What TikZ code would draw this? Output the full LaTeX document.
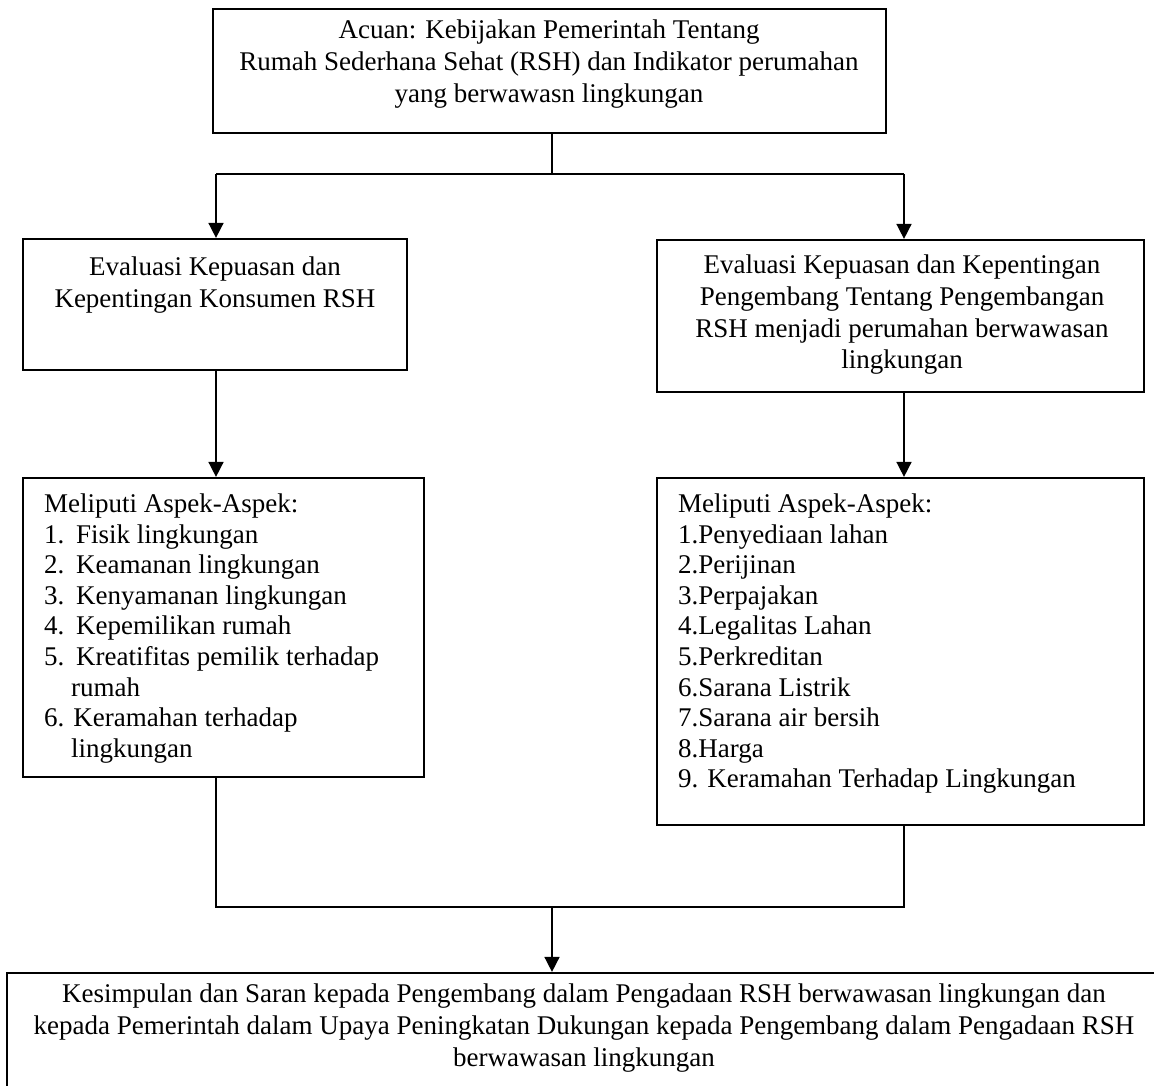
\documentclass[tikz,border=0pt]{standalone}
\usepackage{fontspec}
\setmainfont{Liberation Serif}
\usetikzlibrary{arrows.meta}
\newcommand{\numA}[1]{\makebox[32pt][l]{#1}}
\begin{document}
\begin{tikzpicture}[x=1pt,y=-1pt,
  box/.style={draw, line width=2.2pt, rectangle, inner sep=0pt},
  ctext/.style={inner sep=0pt, anchor=north, align=center, font=\fontsize{27pt}{31.8pt}\selectfont},
  ltext/.style={inner sep=0pt, anchor=north west, align=left, font=\fontsize{27pt}{30.6pt}\selectfont},
  line/.style={line width=1.6pt},
  arr/.style={line width=1.6pt, -{Triangle[width=15pt,length=15pt]}}]
\useasboundingbox (0,0) rectangle (1154,1086);
\clip (0,0) rectangle (1154,1086);
\fill[white] (0,0) rectangle (1154,1086);
% boxes
\node[box, minimum width=673pt, minimum height=124pt] (A) at (549.5,71) {};
\node[box, minimum width=384pt, minimum height=131pt] (B) at (215,304.5) {};
\node[box, minimum width=487pt, minimum height=152pt] (C) at (900.5,316) {};
\node[box, minimum width=401pt, minimum height=299pt] (D) at (223.5,627.5) {};
\node[box, minimum width=487pt, minimum height=347pt] (E) at (900.5,651.5) {};
\node[box, minimum width=1160pt, minimum height=140pt] (F) at (587,1043) {};
% texts
\node[ctext] (tA) at (549,19.6) {Acuan: Kebijakan Pemerintah Tentang\\Rumah Sederhana Sehat (RSH) dan Indikator perumahan\\yang berwawasn lingkungan};
\node[ctext] (tB) at (215,256.6) {Evaluasi Kepuasan dan\\Kepentingan Konsumen RSH};
\node[ctext] (tC) at (902,254.6) {Evaluasi Kepuasan dan Kepentingan\\Pengembang Tentang Pengembangan\\RSH menjadi perumahan berwawasan\\lingkungan};
\node[ltext] (tD) at (44,493.6) {Meliputi Aspek-Aspek:\\
\numA{1.}Fisik lingkungan\\
\numA{2.}Keamanan lingkungan\\
\numA{3.}Kenyamanan lingkungan\\
\numA{4.}Kepemilikan rumah\\
\numA{5.}Kreatifitas pemilik terhadap\\
\hspace*{27pt}rumah\\
6. Keramahan terhadap\\
\hspace*{27pt}lingkungan};
\node[ltext] (tE) at (678,493.6) {Meliputi Aspek-Aspek:\\
1.Penyediaan lahan\\
2.Perijinan\\
3.Perpajakan\\
4.Legalitas Lahan\\
5.Perkreditan\\
6.Sarana Listrik\\
7.Sarana air bersih\\
8.Harga\\
9. Keramahan Terhadap Lingkungan};
\node[ctext] (tF) at (584,983.6) {Kesimpulan dan Saran kepada Pengembang dalam Pengadaan RSH berwawasan lingkungan dan\\kepada Pemerintah dalam Upaya Peningkatan Dukungan kepada Pengembang dalam Pengadaan RSH\\berwawasan lingkungan};
% connectors
\coordinate (split) at (552,174);
\coordinate (jL) at (216,174);
\coordinate (jR) at (904,174);
\coordinate (mL) at (216,907);
\coordinate (mR) at (904,907);
\coordinate (mC) at (552,907);
\draw[line] (split |- A.south) -- (split);
\draw[line] (jL) -- (jR);
\draw[arr] (jL) -- (jL |- B.north);
\draw[arr] (jR) -- (jR |- C.north);
\draw[arr] (jL |- B.south) -- (jL |- D.north);
\draw[arr] (jR |- C.south) -- (jR |- E.north);
\draw[line] (jL |- D.south) -- (mL) -- (mR) -- (jR |- E.south);
\draw[arr] (mC) -- (mC |- F.north);
\end{tikzpicture}
\end{document}
